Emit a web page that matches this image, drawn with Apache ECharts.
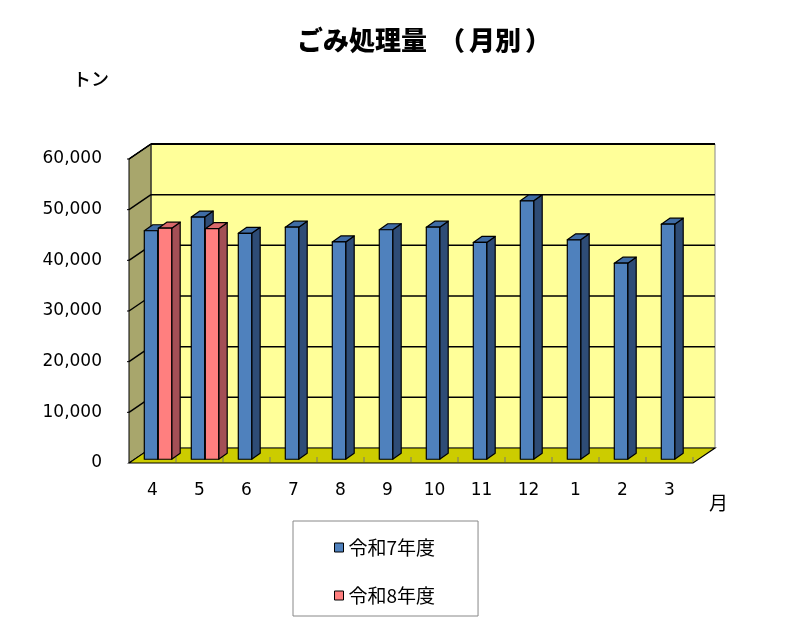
<!DOCTYPE html>
<html><head><meta charset="utf-8">
<script src="https://cdn.jsdelivr.net/npm/echarts@6/dist/echarts.min.js"></script>
<style>html,body{margin:0;padding:0;background:#fff;}#c{width:800px;height:635px;}</style>
</head><body><div id="c"></div>
<script>
// ---- data ----
const months = ['4','5','6','7','8','9','10','11','12','1','2','3'];
const seriesNames = ['令和7年度', '令和8年度'];
const r7 = [45100, 47800, 44600, 45800, 42900, 45300, 45800, 42800, 51000, 43300, 38700, 46400];
const r8 = [45600, 45500, null, null, null, null, null, null, null, null, null, null];
const yMin = 0, yMax = 60000, yStep = 10000;
const titleMain = 'ごみ処理量';
const titleSub = '月別';
const yUnit = 'トン';
const xUnit = '月';

// ---- style ----
const FONT = 'DejaVu Sans';
const CJK = '"Noto Sans CJK JP"';
const DX = 22, DY = -15;           // box depth
const BSX = 5.5, BSY = -3.75;      // bar front plane shift
const BDX = 8.5, BDY = -6;         // bar depth
const colors = [
  {front:'#4F81BD', top:'#3F6CA5', side:'#2E4C76'},
  {front:'#FF7F7F', top:'#D9686B', side:'#A34F55'}
];

const chart = echarts.init(document.getElementById('c'), null, {renderer:'canvas'});

function wallsRender(params, api) {
  const cs = params.coordSys;
  const x = cs.x, y = cs.y, w = cs.width, h = cs.height;
  const ch = [];
  ch.push({type:'polygon', shape:{points:[[x+DX,y+DY],[x+w+DX,y+DY],[x+w+DX,y+h+DY],[x+DX,y+h+DY]]},
    style:{fill:'#FFFF99', stroke:'#888', lineWidth:1}});
  ch.push({type:'polygon', shape:{points:[[x,y],[x+DX,y+DY],[x+DX,y+h+DY],[x,y+h]]},
    style:{fill:'#A8A66C', stroke:'#000', lineWidth:1}});
  ch.push({type:'polygon', shape:{points:[[x,y+h],[x+DX,y+h+DY],[x+w+DX,y+h+DY],[x+w,y+h]]},
    style:{fill:'#CCCC00', stroke:'#000', lineWidth:1.2}});
  for (let v = yMin + yStep; v <= yMax; v += yStep) {
    const yy = api.coord([0, v])[1];
    ch.push({type:'line', shape:{x1:x+DX, y1:yy+DY, x2:x+w+DX, y2:yy+DY}, style:{stroke:'#000', lineWidth:1.5}});
    ch.push({type:'line', shape:{x1:x, y1:yy, x2:x+DX, y2:yy+DY}, style:{stroke:'#000', lineWidth:1.5}});
    ch.push({type:'line', shape:{x1:x-2, y1:yy, x2:x, y2:yy}, style:{stroke:'#000', lineWidth:1}});
  }
  ch.push({type:'line', shape:{x1:x+DX, y1:y+DY, x2:x+w+DX, y2:y+DY}, style:{stroke:'#000', lineWidth:1.8}});
  ch.push({type:'line', shape:{x1:x, y1:y, x2:x+DX, y2:y+DY}, style:{stroke:'#000', lineWidth:1.5}});
  const band = api.size([1,0])[0];
  for (let i = 1; i <= months.length; i++) {
    const bx = x + band * i;
    ch.push({type:'line', shape:{x1:bx, y1:y+h-1, x2:bx, y2:y+h-6}, style:{stroke:'#777', lineWidth:1}});
  }
  return {type:'group', children:ch};
}

function barRender(si) {
  return function(params, api) {
    const i = api.value(0), v = api.value(1);
    if (v == null || isNaN(v)) return null;
    const band = api.size([1,0])[0];
    const c = api.coord([i, v]);
    const b = api.coord([i, 0]);
    const bw = band * 0.285;
    const gap = band * 0.013;
    const l = c[0] + BSX + (si === 0 ? -bw - gap/2 : gap/2);
    const r = l + bw;
    const t = c[1] + BSY, bt = b[1] + BSY;
    const col = colors[si];
    const st = {stroke:'#000', lineWidth:1.2, lineJoin:'round'};
    return {type:'group', children:[
      {type:'polygon', shape:{points:[[r,t],[r+BDX,t+BDY],[r+BDX,bt+BDY],[r,bt]]}, style:Object.assign({fill:col.side}, st)},
      {type:'polygon', shape:{points:[[l,t],[l+BDX,t+BDY],[r+BDX,t+BDY],[r,t]]}, style:Object.assign({fill:col.top}, st)},
      {type:'rect', shape:{x:l, y:t, width:bw, height:bt-t}, style:Object.assign({fill:col.front}, st)}
    ]};
  };
}

const barData = [r7, r8].map(arr => arr.map((v, i) => [i, v == null ? '-' : v]));

const tStyle = {fontFamily: CJK, fontSize: 26, fontWeight: 900, color: '#000'};
const option = {
  animation: false,
  backgroundColor: '#fff',
  title: {
    text: '{t|' + titleMain + '}{o|（}{s|' + titleSub + '}{c|）}',
    left: 297, top: 27, padding: 0,
    textStyle: Object.assign({
      rich: {
        t: Object.assign({}, tStyle),
        o: Object.assign({padding: [0, 0, 0, 12]}, tStyle),
        s: Object.assign({padding: [0, 0, 0, 4]}, tStyle),
        c: Object.assign({padding: [0, 0, 0, 4]}, tStyle)
      }
    }, tStyle)
  },
  legend: {
    orient: 'vertical', left: 293, top: 521,
    padding: [17, 43, 11, 41],
    itemWidth: 9, itemHeight: 9, itemGap: 29,
    borderColor: '#888', borderWidth: 1, backgroundColor: '#fff',
    textStyle: {fontFamily: CJK, fontSize: 19, color: '#000'},
    data: seriesNames.map((n, k) => ({name: n, icon: 'rect',
      itemStyle: {color: colors[k].front, borderColor: '#000', borderWidth: 1}}))
  },
  grid: {left: 129, right: 107, top: 159, bottom: 172, containLabel: false},
  xAxis: {
    type: 'category', data: months,
    axisLine: {show: false}, axisTick: {show: false}, splitLine: {show: false},
    axisLabel: {margin: 19, fontFamily: FONT, fontSize: 17, color: '#000'}
  },
  yAxis: {
    type: 'value', min: yMin, max: yMax, interval: yStep,
    axisLine: {show: false}, axisTick: {show: false}, splitLine: {show: false},
    axisLabel: {margin: 27, fontFamily: FONT, fontSize: 17, color: '#000',
      formatter: v => v.toLocaleString('en-US')}
  },
  graphic: [
    {type: 'text', left: 73, top: 70, style: {text: yUnit, font: '500 18px "Noto Sans CJK JP"', fill: '#000'}},
    {type: 'text', left: 709, top: 493, style: {text: xUnit, font: '19px "Noto Sans CJK JP"', fill: '#000'}}
  ],
  series: [
    {type: 'custom', name: '_walls', z: 1, silent: true, renderItem: wallsRender, data: [[0, 0]], encode: {x: 0, y: 1}},
    {type: 'custom', name: seriesNames[0], z: 3, renderItem: barRender(0), data: barData[0], encode: {x: 0, y: 1},
      itemStyle: {color: colors[0].front}},
    {type: 'custom', name: seriesNames[1], z: 4, renderItem: barRender(1), data: barData[1], encode: {x: 0, y: 1},
      itemStyle: {color: colors[1].front}}
  ]
};
chart.setOption(option);
</script></body></html>
